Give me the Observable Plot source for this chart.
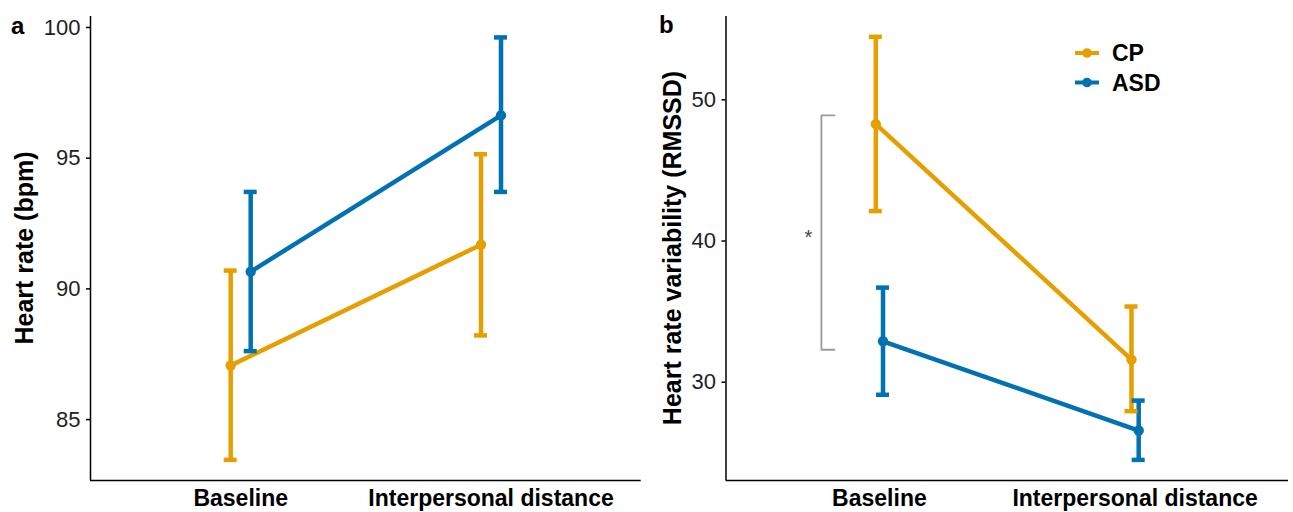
<!DOCTYPE html>
<html>
<head>
<meta charset="utf-8">
<script src="https://cdn.jsdelivr.net/npm/d3@7"></script>
<script src="https://cdn.jsdelivr.net/npm/@observablehq/plot@0.6"></script>
<style>
  body { margin: 0; background: #fff; }
  #wrap { position: relative; width: 1293px; height: 512px; font-family: "Liberation Sans", Arial, sans-serif; }
  #wrap > svg { position: absolute; top: 0; }
</style>
</head>
<body>
<div id="wrap"></div>
<script>
// Conditions on the x axis and the two groups
const conditions = ["Baseline", "Interpersonal distance"];
const groups = ["CP", "ASD"];
const groupColors = ["#E69F00", "#0072B2"];

// (a) Heart rate (bpm): means and error-bar limits, per condition
const hrCPMean  = [87.07, 91.69];
const hrCPLow   = [83.46, 88.22];
const hrCPHigh  = [90.70, 95.15];
const hrASDMean = [90.66, 96.64];
const hrASDLow  = [87.62, 93.71];
const hrASDHigh = [93.71, 99.62];
const hrTicks = [85, 90, 95, 100];

// (b) Heart rate variability (RMSSD): means and error-bar limits, per condition
const rmssdCPMean  = [48.28, 31.60];
const rmssdCPLow   = [42.12, 27.95];
const rmssdCPHigh  = [54.46, 35.36];
const rmssdASDMean = [32.90, 26.58];
const rmssdASDLow  = [29.11, 24.50];
const rmssdASDHigh = [36.70, 28.70];
const rmssdTicks = [30, 40, 50];

// Significance bracket between groups at baseline (panel b)
const sigRange = [32.3, 48.9];
const sigLabel = "*";

const font = "'Liberation Sans', Arial, sans-serif";

function rowsFor(cpMean, cpLow, cpHigh, asdMean, asdLow, asdHigh) {
  const rows = [];
  conditions.forEach((c, i) => {
    rows.push({group: "CP", ci: i, mean: cpMean[i], low: cpLow[i], high: cpHigh[i]});
  });
  conditions.forEach((c, i) => {
    rows.push({group: "ASD", ci: i, mean: asdMean[i], low: asdLow[i], high: asdHigh[i]});
  });
  return rows;
}

function panel({rows, domain, ticks, width, marginLeft, marginRight, dodgePx, extra = []}) {
  const xDomain = [0.4, conditions.length + 0.6];
  const step = (width - marginLeft - marginRight) / (xDomain[1] - xDomain[0]);
  const dodge = dodgePx / step;
  const capHalf = 6.5 / step;
  const xOf = d => d.ci + 1 + (d.group === "CP" ? -dodge : dodge);
  const lw = 4.5;
  return Plot.plot({
    width, height: 512,
    marginLeft, marginRight, marginTop: 16, marginBottom: 32,
    style: {fontFamily: font, background: "transparent", overflow: "visible"},
    x: {domain: xDomain},
    y: {domain},
    color: {domain: groups, range: groupColors},
    marks: [
      Plot.axisX({ticks: conditions.map((c, i) => i + 1), tickFormat: v => conditions[v - 1],
        tickSize: 0, tickPadding: 9, fontSize: 23, fontWeight: "bold", fill: "black", label: null}),
      Plot.axisY({ticks, tickSize: 4, tickPadding: 6, fontSize: 22, fill: "#222", stroke: "black",
        strokeWidth: 1.5, label: null}),
      Plot.ruleX([xDomain[0]], {stroke: "black", strokeWidth: 1.5}),
      Plot.ruleY([domain[0]], {stroke: "black", strokeWidth: 1.5}),
      ...extra.map(f => f(step)),
      Plot.line(rows, {x: xOf, y: "mean", z: "group", stroke: "group", strokeWidth: lw}),
      Plot.ruleX(rows, {x: xOf, y1: "low", y2: "high", stroke: "group", strokeWidth: lw}),
      Plot.ruleY(rows, {y: "high", x1: d => xOf(d) - capHalf, x2: d => xOf(d) + capHalf, stroke: "group", strokeWidth: lw}),
      Plot.ruleY(rows, {y: "low", x1: d => xOf(d) - capHalf, x2: d => xOf(d) + capHalf, stroke: "group", strokeWidth: lw}),
      Plot.dot(rows, {x: xOf, y: "mean", fill: "group", r: 5.2})
    ]
  });
}

const wrap = document.getElementById("wrap");

// Panel a: heart rate
const chartA = panel({
  rows: rowsFor(hrCPMean, hrCPLow, hrCPHigh, hrASDMean, hrASDLow, hrASDHigh),
  domain: [82.67, 100.42], ticks: hrTicks,
  width: 646, marginLeft: 90, marginRight: 5.3, dodgePx: 10
});
chartA.style.left = "0px";
wrap.appendChild(chartA);

// Panel b: RMSSD, with the significance bracket at baseline
const bracketMarks = [
  step => Plot.line(
    [{x: 1 - 45 / step, y: sigRange[0]}, {x: 1 - 58 / step, y: sigRange[0]},
     {x: 1 - 58 / step, y: sigRange[1]}, {x: 1 - 45 / step, y: sigRange[1]}],
    {x: "x", y: "y", stroke: "#9a9a9a", strokeWidth: 1.8}),
  step => Plot.text([sigLabel], {x: 1 - 71 / step, y: (sigRange[0] + sigRange[1]) / 2, text: d => d,
    fontSize: 20, fill: "#444", dy: 5})
];
const chartB = panel({
  rows: rowsFor(rmssdCPMean, rmssdCPLow, rmssdCPHigh, rmssdASDMean, rmssdASDLow, rmssdASDHigh),
  domain: [23.04, 55.9], ticks: rmssdTicks,
  width: 647, marginLeft: 79.5, marginRight: 5, dodgePx: 3.6, extra: bracketMarks
});
chartB.style.left = "646px";
wrap.appendChild(chartB);

// Titles, panel letters and legend
const overlay = d3.create("svg")
  .attr("width", 1293).attr("height", 512)
  .style("left", "0px").style("pointer-events", "none")
  .attr("font-family", font);

overlay.append("text").attr("x", 11).attr("y", 34).attr("font-size", 24).attr("font-weight", "bold").text("a");
overlay.append("text").attr("x", 659).attr("y", 33).attr("font-size", 24).attr("font-weight", "bold").text("b");

overlay.append("text").attr("transform", "translate(33,248) rotate(-90)")
  .attr("text-anchor", "middle").attr("font-size", 25).attr("font-weight", "bold").text("Heart rate (bpm)");
overlay.append("text").attr("transform", "translate(680.5,248) rotate(-90)")
  .attr("text-anchor", "middle").attr("font-size", 25).attr("font-weight", "bold").text("Heart rate variability (RMSSD)");

const legendY = [53, 82.5];
groups.forEach((g, i) => {
  const gEl = overlay.append("g").attr("transform", `translate(0,${legendY[i]})`);
  gEl.append("line").attr("x1", 1075).attr("x2", 1099).attr("y1", 0).attr("y2", 0)
    .attr("stroke", groupColors[i]).attr("stroke-width", 4);
  gEl.append("circle").attr("cx", 1087).attr("cy", 0).attr("r", 4.8).attr("fill", groupColors[i]);
  gEl.append("text").attr("x", 1112).attr("y", 8).attr("font-size", 23).attr("font-weight", "bold").text(g);
});

wrap.appendChild(overlay.node());
</script>
</body>
</html>
